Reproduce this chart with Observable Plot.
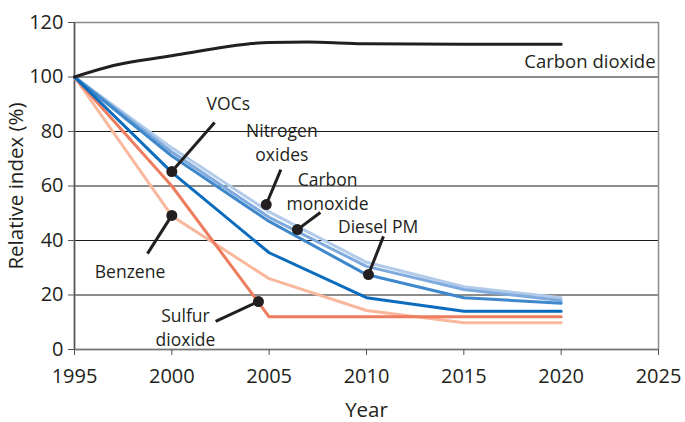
<!DOCTYPE html>
<html>
<head>
<meta charset="utf-8">
<script src="https://cdn.jsdelivr.net/npm/d3@7"></script>
<script src="https://cdn.jsdelivr.net/npm/@observablehq/plot@0.6"></script>
<style>
  html, body { margin: 0; padding: 0; background: #fff; }
  #chart svg { display: block; }
</style>
</head>
<body>
<div id="chart"></div>
<script>
// ---- data ----
const years = [1995, 2000, 2005, 2010, 2015, 2020];
const seriesNames = ["Benzene", "Sulfur dioxide", "Nitrogen oxides", "Carbon monoxide", "Diesel PM", "VOCs"];
const benzene        = [100, 49, 26, 14.3, 9.8, 9.8];
const sulfurDioxide  = [100, 60, 12, 12, 12, 12];
const nitrogenOxides = [100, 74, 50.5, 32, 23, 19];
const carbonMonoxide = [100, 72.5, 48.5, 30.5, 22, 18];
const dieselPM       = [100, 71, 47, 27.5, 19, 17];
const vocs           = [100, 65, 35.5, 19, 14, 14];
const seriesValues = [benzene, sulfurDioxide, nitrogenOxides, carbonMonoxide, dieselPM, vocs];

const co2Years = [1995, 1997, 2000, 2002, 2004, 2005, 2007, 2009, 2010, 2015, 2020];
const co2      = [100, 104.2, 107.8, 110.2, 112.2, 112.7, 112.8, 112.4, 112.2, 112, 112];

const xTicks = [1995, 2000, 2005, 2010, 2015, 2020, 2025];
const yTicks = [0, 20, 40, 60, 80, 100, 120];

// annotation labels (data coordinates): label text, text anchor, leader start, dot
const labelTexts = ["VOCs", "Nitrogen\noxides", "Carbon\nmonoxide", "Diesel PM", "Benzene", "Sulfur\ndioxide"];
const labelYear  = [2002.9, 2005.65, 2008.0, 2010.6, 1997.85, 2000.7];
const labelValue = [90.6, 76.3, 58.3, 45.5, 29.0, 8.4];
const leaderYear  = [2002.2, 2005.6, 2007.63, 2010.87, 1998.75, 2002.25];
const leaderValue = [83.3, 66.0, 50.3, 41.5, 35.2, 10.3];
const dotYear  = [2000.0, 2004.85, 2006.45, 2010.1, 2000.0, 2004.45];
const dotValue = [65.3, 53.2, 44.0, 27.5, 49.2, 17.6];
const co2Label = {text: "Carbon dioxide", year: 2024.85, value: 105.3};

// ---- styles ----
const seriesColors = ["#f9b79c", "#ee7c5e", "#b3cbea", "#7eaadd", "#3f88cc", "#0b6cbd"];
const ink = "#231f20";
const font = "Open Sans";

// ---- build tables ----
const rows = seriesNames.flatMap((name, s) =>
  years.map((yr, i) => ({series: name, year: yr, value: seriesValues[s][i]})));
const co2Rows = co2Years.map((yr, i) => ({year: yr, value: co2[i]}));
const notes = labelTexts.map((t, i) => ({
  text: t, lx: labelYear[i], ly: labelValue[i],
  x1: leaderYear[i], y1: leaderValue[i], x2: dotYear[i], y2: dotValue[i]
}));

const chart = Plot.plot({
  width: 685,
  height: 422,
  marginLeft: 74,
  marginRight: 27,
  marginTop: 22,
  marginBottom: 73,
  style: {fontFamily: font, color: ink, background: "#fff"},
  x: {domain: [1995, 2025]},
  y: {domain: [0, 120]},
  color: {domain: seriesNames, range: seriesColors},
  marks: [
    Plot.ruleY(yTicks.slice(1, -1), {stroke: "#1a1a1a", strokeWidth: 1}),
    Plot.frame({stroke: "#8c8c8c", strokeWidth: 1.5}),
    Plot.ruleX([1995], {stroke: "#555", strokeWidth: 1.5}),
    Plot.ruleY([0], {stroke: "#777", strokeWidth: 1.5}),
    Plot.axisY({ticks: yTicks, tickSize: 6, tickPadding: 5, fontSize: 20,
      label: "Relative index (%)", labelAnchor: "center", labelArrow: "none", labelOffset: 66,
      stroke: "#555"}),
    Plot.axisX({ticks: xTicks, tickFormat: d => String(d), tickSize: 6, tickPadding: 13.5, fontSize: 20,
      label: "Year", labelAnchor: "center", labelArrow: "none", labelOffset: 67,
      stroke: "#555"}),
    Plot.line(rows, {x: "year", y: "value", z: "series", stroke: "series", strokeWidth: 3}),
    Plot.line(co2Rows, {x: "year", y: "value", stroke: ink, strokeWidth: 3, curve: "monotone-x"}),
    Plot.link(notes, {x1: "x1", y1: "y1", x2: "x2", y2: "y2", stroke: ink, strokeWidth: 3}),
    Plot.dot(notes, {x: "x2", y: "y2", r: 5.5, fill: ink}),
    Plot.text(notes, {x: "lx", y: "ly", text: "text", fontSize: 17.5, fill: ink, lineHeight: 1.37}),
    Plot.text([co2Label], {x: "year", y: "value", text: "text", textAnchor: "end", fontSize: 18.5, fill: ink})
  ]
});

// style axis labels
chart.querySelectorAll("g[aria-label='y-axis label'] text, g[aria-label='x-axis label'] text")
  .forEach(t => t.setAttribute("font-size", 20.5));
document.getElementById("chart").appendChild(chart);
</script>
</body>
</html>
